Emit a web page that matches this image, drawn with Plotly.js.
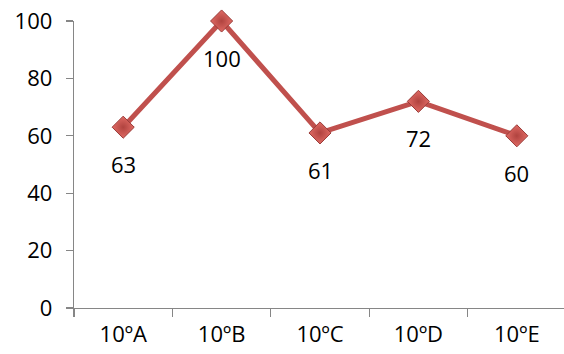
<!DOCTYPE html>
<html>
<head>
<meta charset="utf-8">
<script src="https://cdn.plot.ly/plotly-3.0.1.min.js"></script>
<style>html,body{margin:0;padding:0;overflow:hidden;background:#fff;}</style>
</head>
<body>
<div id="chart" style="width:566px;height:354px;"></div>
<script>
const categories = ["10ºA", "10ºB", "10ºC", "10ºD", "10ºE"];
const values = [63, 100, 61, 72, 60];
const yTicks = [0, 20, 40, 60, 80, 100];

const fontFam = "'Open Sans', Lato, sans-serif";

const trace = {
  type: "scatter",
  mode: "lines+markers",
  x: categories,
  y: values,
  cliponaxis: false,
  line: {color: "#c0504d", width: 5},
  marker: {
    symbol: "diamond",
    size: 17,
    color: "#e06a64",
    gradient: {type: "radial", color: "#b0433f"},
    line: {color: "#9a3b38", width: 1}
  },
  hoverinfo: "skip"
};

const annotations = categories.map((c, i) => ({
  x: c, y: values[i], text: String(values[i]),
  showarrow: false, yshift: -37,
  font: {family: fontFam, size: 22, color: "#000"}
}));

const layout = {
  width: 566, height: 354,
  margin: {l: 74, r: 0, t: 21, b: 46},
  paper_bgcolor: "#fff", plot_bgcolor: "#fff",
  showlegend: false,
  font: {family: fontFam, size: 22, color: "#000"},
  xaxis: {
    type: "category",
    range: [-0.5, 4.5],
    showgrid: false, zeroline: false,
    showline: true, linecolor: "#868686", linewidth: 1.3,
    ticks: "outside", tickson: "boundaries", ticklen: 8, tickcolor: "#868686", tickwidth: 1.3,
    ticklabelstandoff: 6,
    tickfont: {family: fontFam, size: 22, color: "#000"}
  },
  yaxis: {
    range: [0, 100],
    tickvals: yTicks,
    showgrid: false, zeroline: false,
    showline: true, linecolor: "#868686", linewidth: 1.3,
    ticks: "outside", ticklen: 7, tickcolor: "#868686", tickwidth: 1.3,
    ticklabelstandoff: 9,
    tickfont: {family: fontFam, size: 22, color: "#000"}
  },
  annotations: annotations
};

Plotly.newPlot("chart", [trace], layout, {staticPlot: true, displayModeBar: false});
</script>
</body>
</html>
